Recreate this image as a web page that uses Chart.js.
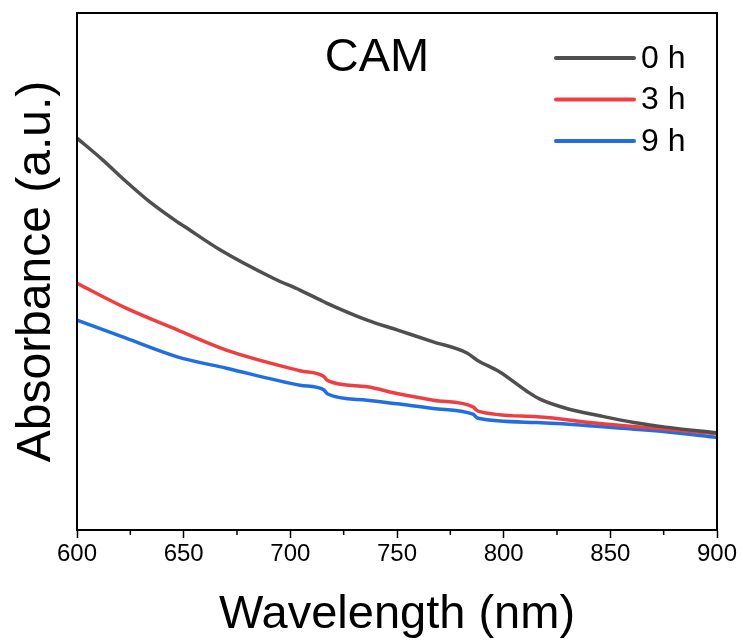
<!DOCTYPE html>
<html>
<head>
<meta charset="utf-8">
<script src="https://cdn.jsdelivr.net/npm/chart.js@4.4.0/dist/chart.umd.min.js"></script>
<style>
  html, body { margin: 0; padding: 0; background: #fff; }
  #wrap { width: 743px; height: 643px; }
</style>
</head>
<body>
<div id="wrap"><canvas id="c" width="743" height="643"></canvas></div>
<script>
// values (absorbance in arbitrary units, 0 = bottom, 1 = top of frame)
const wl0 = [600, 612, 623, 634, 647, 650, 667, 692, 704.5, 714, 717, 736, 750, 767, 783, 787.4, 798, 811, 817, 829.5, 845, 861, 876, 900];
const abs0 = [0.758, 0.716, 0.674, 0.635, 0.596, 0.588, 0.542, 0.487, 0.464, 0.445, 0.439, 0.406, 0.387, 0.364, 0.342, 0.329, 0.306, 0.268, 0.253, 0.235, 0.221, 0.208, 0.199, 0.188];

const wl3 = [600, 623, 647, 670, 704.5, 715.7, 717.5, 736, 750, 767, 785.6, 788, 815.6, 845, 876, 900];
const abs3 = [0.477, 0.429, 0.387, 0.348, 0.308, 0.297, 0.289, 0.277, 0.264, 0.251, 0.238, 0.230, 0.219, 0.206, 0.195, 0.186];

const wl9 = [600, 623, 647, 670, 704.5, 715.7, 717.5, 736, 750, 767, 785.6, 788, 815.6, 845, 876, 900];
const abs9 = [0.406, 0.371, 0.335, 0.313, 0.280, 0.271, 0.263, 0.251, 0.244, 0.235, 0.224, 0.216, 0.208, 0.200, 0.190, 0.179];

const seriesLabels = ['0 h', '3 h', '9 h'];
const seriesColors = ['#4f4f4f', '#ef3e42', '#1f6fe3'];
const sampleName = 'CAM';

const FONT = "'Liberation Sans', Arial, sans-serif";

function pts(xs, ys) {
  return xs.map((x, i) => ({ x: x, y: ys[i] }));
}

// frame round the plot, minor ticks, sample name, legend
const extras = {
  id: 'extras',
  afterDraw(chart) {
    const ctx = chart.ctx;
    const a = chart.chartArea;
    const xs = chart.scales.x;
    ctx.save();
    ctx.strokeStyle = '#000';
    ctx.lineWidth = 2;
    ctx.strokeRect(a.left, a.top, a.right - a.left, a.bottom - a.top);

    // minor ticks half way between the labelled ones
    ctx.lineWidth = 1.5;
    for (let v = xs.min + 25; v < xs.max; v += 50) {
      const px = xs.getPixelForValue(v);
      ctx.beginPath();
      ctx.moveTo(px, a.bottom);
      ctx.lineTo(px, a.bottom + 5);
      ctx.stroke();
    }

    ctx.fillStyle = '#000';
    ctx.font = '47px ' + FONT;
    ctx.textAlign = 'center';
    ctx.textBaseline = 'alphabetic';
    ctx.fillText(sampleName, 377, 71);

    // legend
    ctx.font = '32px ' + FONT;
    ctx.textAlign = 'left';
    ctx.textBaseline = 'middle';
    chart.data.datasets.forEach((ds, i) => {
      const y = 58 + i * 41.5;
      ctx.strokeStyle = ds.borderColor;
      ctx.lineWidth = 4;
      ctx.lineCap = 'round';
      ctx.beginPath();
      ctx.moveTo(556, y);
      ctx.lineTo(634, y);
      ctx.stroke();
      ctx.fillStyle = '#000';
      ctx.fillText(ds.label, 641, y + 1);
    });
    ctx.restore();
  }
};

new Chart(document.getElementById('c'), {
  type: 'line',
  data: {
    datasets: [
      { label: seriesLabels[0], data: pts(wl0, abs0), borderColor: seriesColors[0] },
      { label: seriesLabels[1], data: pts(wl3, abs3), borderColor: seriesColors[1] },
      { label: seriesLabels[2], data: pts(wl9, abs9), borderColor: seriesColors[2] }
    ]
  },
  options: {
    responsive: false,
    animation: false,
    layout: { padding: { top: 13, right: 26, left: 0, bottom: 0 } },
    elements: {
      point: { radius: 0 },
      line: { borderWidth: 3.5, cubicInterpolationMode: 'monotone', fill: false }
    },
    plugins: {
      legend: { display: false },
      tooltip: { enabled: false }
    },
    scales: {
      x: {
        type: 'linear',
        min: 600,
        max: 900,
        afterFit(scale) { scale.height = 113; },
        border: { display: true, color: '#000', width: 2 },
        grid: { drawOnChartArea: false, drawTicks: true, tickLength: 8, tickColor: '#000', tickWidth: 1.5, color: '#000' },
        ticks: { stepSize: 50, color: '#000', font: { family: FONT, size: 24 }, padding: 2, maxRotation: 0 },
        title: {
          display: true,
          text: 'Wavelength (nm)',
          color: '#000',
          font: { family: FONT, size: 47, lineHeight: 1.2 },
          padding: { top: 1, bottom: 0 }
        }
      },
      y: {
        min: 0,
        max: 1,
        afterFit(scale) { scale.width = 77; },
        border: { display: true, color: '#000', width: 2 },
        grid: { display: false },
        ticks: { display: false },
        title: {
          display: true,
          text: 'Absorbance (a.u.)',
          color: '#000',
          font: { family: FONT, size: 48, lineHeight: 1.2 },
          padding: { top: 8, bottom: 0 }
        }
      }
    }
  },
  plugins: [extras]
});
</script>
</body>
</html>
